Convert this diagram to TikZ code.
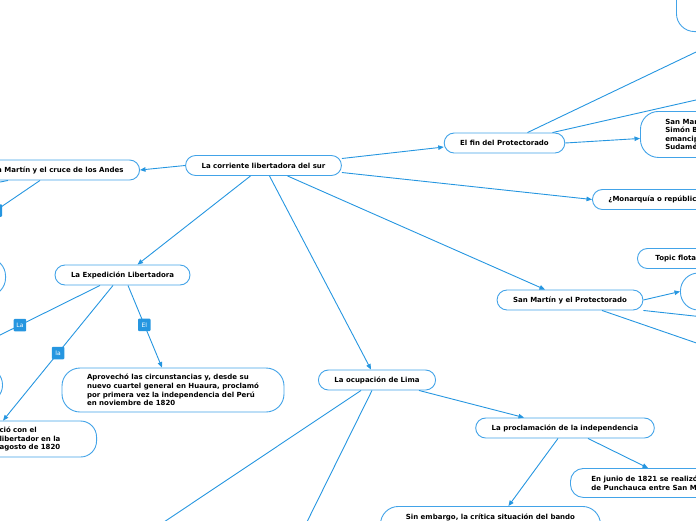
\documentclass[tikz,border=0pt]{standalone}
\usepackage{fontspec}
\setmainfont{DejaVu Sans}
\usetikzlibrary{arrows.meta}
\definecolor{mapblue}{RGB}{38,150,224}
\definecolor{rimblue}{RGB}{66,163,232}

\begin{document}
\begin{tikzpicture}[x=1pt, y=-1pt,
    topic/.style={draw=rimblue, line width=0.9pt, fill=white, rounded corners=10pt,
                  font=\fontsize{7}{8.6}\selectfont\bfseries, minimum height=20pt, inner xsep=16pt},
    note/.style={topic, rounded corners=#1, align=left, inner ysep=5pt},
    note/.default=18pt,
    tag/.style={fill=mapblue, text=white, rounded corners=1pt, font=\fontsize{6}{7}\selectfont,
                inner sep=1pt, minimum size=12.5pt},
    link/.style={mapblue, line width=0.9pt},
    flow/.style={link, -{Triangle[length=5.5pt,width=4.5pt]}}
  ]
    \useasboundingbox (0,0) rectangle (696,520);
    \clip (0,0) rectangle (696,520);

    % loose ends running out of the frame
    \coordinate (cr1) at (-24,224);
    \coordinate (cr2) at (-20,186);
    \coordinate (ex1) at (-20,345);
    \coordinate (fe1) at (740,31);
    \coordinate (fe2) at (740,90);
    \coordinate (pr1) at (740,321);
    \coordinate (pr2) at (740,358);
    \coordinate (li1) at (137,540);
    \coordinate (li2) at (298,540);

    \node[topic] (root) at (263.5,165.5) {La corriente libertadora del sur};
    \node[topic, anchor=east] (cruce) at (140,170) {San Martín y el cruce de los Andes};
    \node[topic] (fin) at (504.5,143) {El fin del Protectorado};
    \node[note, anchor=north west, minimum height=46pt, inner xsep=25pt] (emanc) at (640,111)
        {San Mar\\Simón B\\emancip\\Sudamé};
    \node[note, anchor=south west, minimum width=60pt, minimum height=60pt] (upper) at (676,32) {};
    \node[topic, anchor=west] (monarq) at (592,199.5) {¿Monarquía o república};
    \node[topic, anchor=west, inner xsep=18pt] (floating) at (637,258.5) {Topic flotante};
    \node[topic] (protec) at (570,300) {San Martín y el Protectorado};
    \node[note, anchor=west, minimum width=60pt, minimum height=37pt] (rcirc) at (680,291.5) {};
    \node[topic] (exped) at (122.5,275) {La Expedición Libertadora};
    \node[note, anchor=east, minimum width=50pt, minimum height=38pt] (lcirc1) at (6,277) {};
    \node[note, anchor=east, minimum width=50pt, minimum height=36pt] (lcirc2) at (3,385) {};
    \node[note, minimum width=222pt, minimum height=44pt] (aprov) at (173,390)
        {Aprovechó las circunstancias y, desde su\\nuevo cuartel general en Huaura, proclamó\\por primera vez la independencia del Perú\\en noviembre de 1820};
    \node[note=16pt, anchor=east, text width=81pt, minimum height=36pt] (ciolib) at (97,439)
        {ció con el\\libertador en la\\agosto de 1820};
    \node[topic] (lima) at (377,380) {La ocupación de Lima};
    \node[topic] (procl) at (565,428) {La proclamación de la independencia};
    \node[note=13pt, anchor=north west, minimum height=29pt, inner xsep=21pt] (junio) at (570,468)
        {En junio de 1821 se realizó\\de Punchauca entre San M};
    \node[note, anchor=north west, minimum width=220pt, inner ysep=7pt, text depth=26pt] (sinemb) at (380,506)
        {Sin embargo, la crítica situación del bando};

    \draw[flow] (root.west) -- (cruce.east);
    \draw[flow] ([yshift=7pt]root.east) -- ([yshift=-4pt]fin.west);
    \draw[flow] ([yshift=-7pt]root.east) -- (monarq.west);
    \draw[flow] ([xshift=24pt]root.south) -- ([xshift=-25pt]protec.north);
    \draw[flow] ([xshift=-13pt]root.south) -- ([xshift=15pt]exped.north);
    \draw[flow] ([xshift=6pt]root.south) -- ([xshift=-6pt]lima.north);

    \draw[link] ([xshift=-100pt]cruce.south east) -- node[tag, pos=0.69] {} (cr1);
    \draw[link] ([xshift=-132pt]cruce.south east) -- (cr2);

    \draw[flow] (fin.east) -- ([yshift=-4pt]emanc.west);
    \draw[link] ([xshift=23pt]fin.north) -- (fe1);
    \draw[link] ([xshift=48pt]fin.north) -- (fe2);

    \draw[flow] (protec.east) -- (rcirc.west);
    \draw[link] (protec.south east) -- (pr1);
    \draw[link] ([xshift=32pt]protec.south) -- (pr2);

    \draw[link] ([xshift=-22.5pt]exped.south) -- node[tag, pos=0.667] {La} (ex1);
    \draw[flow] ([xshift=-9.5pt]exped.south) -- node[tag, pos=0.5] {la} ([xshift=-37pt]ciolib.north);
    \draw[flow] ([xshift=5.5pt]exped.south) -- node[tag, pos=0.48] {El} ([xshift=-11pt]aprov.north);

    \draw[link] ([xshift=-16pt]lima.south) -- (li1);
    \draw[link] ([xshift=-5pt]lima.south) -- (li2);
    \draw[flow] ([xshift=42pt]lima.south) -- ([xshift=-41pt]procl.north);

    \draw[flow] ([xshift=-7pt]procl.south) -- ([xshift=18pt]sinemb.north);
    \draw[flow] ([xshift=23pt]procl.south) -- ([xshift=78pt]junio.north west);
\end{tikzpicture}
\end{document}
